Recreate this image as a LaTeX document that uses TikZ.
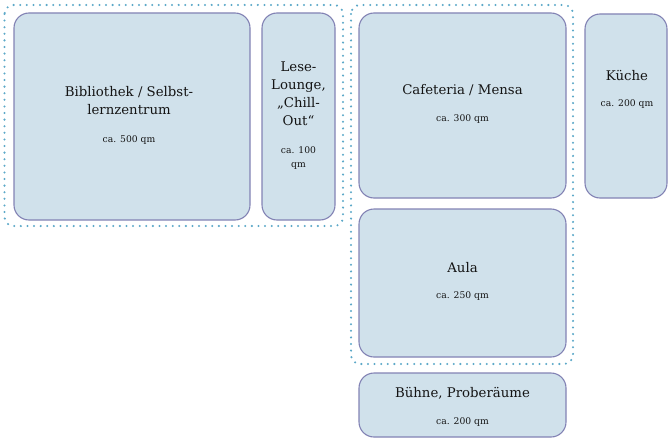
\documentclass[tikz,border=0pt]{standalone}
\usepackage{fontspec}
\setmainfont{DejaVu Serif}
\begin{document}
\begin{tikzpicture}[x=1pt,y=-1pt,
  room/.style={draw=roomline, fill=roomfill, line width=1.1pt, rounded corners=15pt,
    anchor=north west, inner sep=0pt, outer sep=0pt},
  grp/.style={draw=dotblue, line width=2.3pt, line cap=round, dash pattern=on 0pt off 6.6pt,
    rounded corners=9pt},
  title/.style={font=\fontsize{13.3}{18}\selectfont, align=center, text=black!92, inner sep=0pt},
  area/.style={font=\fontsize{9.2}{13.5}\selectfont, align=center, text=black!92, inner sep=0pt}]
\definecolor{roomfill}{HTML}{D0E1EB}
\definecolor{roomline}{HTML}{8282B4}
\definecolor{dotblue}{HTML}{5CA8C8}
\useasboundingbox (0,0) rectangle (668,444);

% groups of rooms
\draw[grp] (4.5,5) rectangle (343,226);
\draw[grp] (351,5) rectangle (573,364);

% rooms
\node[room, minimum width=236pt, minimum height=207pt] (bib) at (14,13) {};
\node[room, minimum width=73pt, minimum height=207pt] (lounge) at (262,13) {};
\node[room, minimum width=207pt, minimum height=185pt] (cafe) at (359,13) {};
\node[room, minimum width=82pt, minimum height=184pt] (kueche) at (585,14) {};
\node[room, minimum width=207pt, minimum height=148pt] (aula) at (359,209) {};
\node[room, minimum width=207pt, minimum height=64pt] (buehne) at (359,373) {};

% labels
\node[title] (bibT) at (129,101) {Bibliothek / Selbst-\\lernzentrum};
\node[area] (bibA) at (129,140) {ca. 500 qm};
\node[title] (loungeT) at (298.5,94) {Lese-\\Lounge,\\„Chill-\\Out“};
\node[area] (loungeA) at (298.5,158) {ca. 100\\qm};
\node[title] (cafeT) at (462.5,90) {Cafeteria / Mensa};
\node[area] (cafeA) at (462.5,119) {ca. 300 qm};
\node[title] (kuecheT) at (627,75) {Küche};
\node[area] (kuecheA) at (627,104) {ca. 200 qm};
\node[title] (aulaT) at (462.5,268) {Aula};
\node[area] (aulaA) at (462.5,296) {ca. 250 qm};
\node[title] (buehneT) at (462.5,393) {Bühne, Proberäume};
\node[area] (buehneA) at (462.5,422) {ca. 200 qm};
\end{tikzpicture}
\end{document}
